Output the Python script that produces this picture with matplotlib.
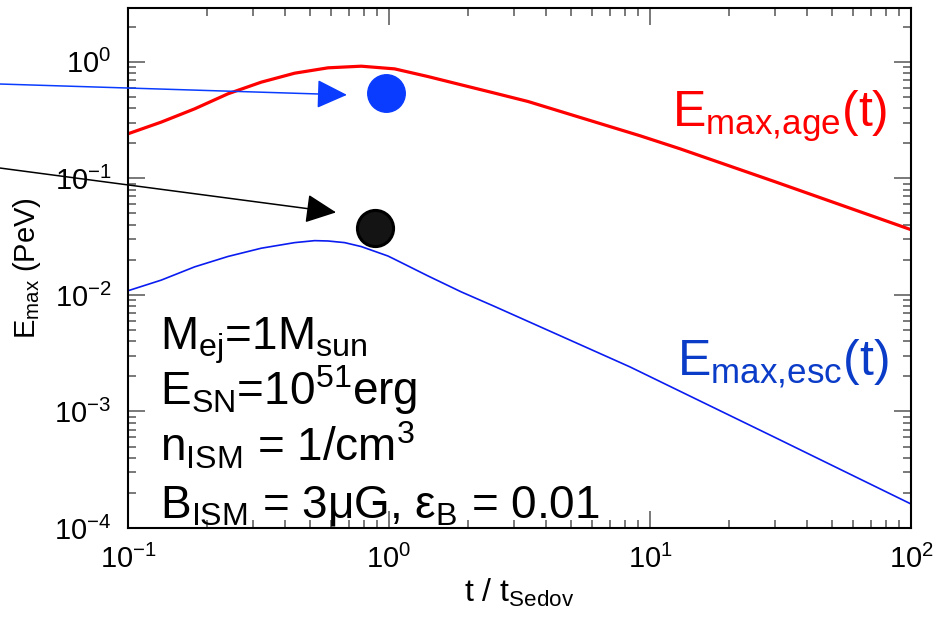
import numpy as np
import matplotlib
matplotlib.use("Agg")
import matplotlib.pyplot as plt
from matplotlib.ticker import LogLocator, NullFormatter

plt.rcParams["font.family"] = ["Liberation Sans", "DejaVu Sans"]
plt.rcParams["mathtext.fontset"] = "custom"
plt.rcParams["mathtext.rm"] = "Liberation Sans"
plt.rcParams["mathtext.it"] = "Liberation Sans"
plt.rcParams["mathtext.default"] = "regular"
plt.rcParams["axes.unicode_minus"] = False

# Emax limitado por la edad del remanente (log10 de PeV)
t_age = [0.1, 0.134, 0.18, 0.2415, 0.324, 0.435, 0.584, 0.783, 1.051, 1.411,
         1.892, 2.54, 3.41, 5.0, 9.16, 13.0, 30.0, 100.0]
logE_age = [-0.617, -0.517, -0.403, -0.274, -0.174, -0.097, -0.051, -0.037, -0.060,
            -0.126, -0.197, -0.268, -0.340, -0.454, -0.634, -0.745, -1.027, -1.44]

# Emax limitado por el escape (log10 de PeV)
t_esc = [0.1, 0.134, 0.18, 0.2415, 0.324, 0.435, 0.519, 0.584, 0.676, 0.783,
         0.991, 1.051, 1.411, 1.892, 2.54, 8.37, 30.0, 100.0]
logE_esc = [-1.964, -1.873, -1.759, -1.670, -1.599, -1.551, -1.534, -1.537, -1.551,
            -1.585, -1.666, -1.694, -1.837, -1.974, -2.099, -2.617, -3.221, -3.794]

# puntos marcados y la punta de cada flecha
punto_azul = (0.974, 0.54)
punto_negro = (0.884, 0.0373)
flecha_azul = (0.69, 0.521)
flecha_negra = (0.627, 0.0511)
cola_azul = (0.0, 0.866)
cola_negra = (0.0, 0.732)

parametros = [
    r"$M_{ej}$=1$M_{sun}$",
    r"$E_{SN}$=10$^{51}$erg",
    r"$n_{ISM}$ = 1/cm$^{3}$",
    r"$B_{ISM}$ = 3$\mu$G, $\varepsilon_{B}$ = 0.01",
]

fig = plt.figure(figsize=(9.42, 6.27), dpi=100)
ax = fig.add_axes([128 / 942, 99 / 627, 783 / 942, 520 / 627])

ax.plot(t_age, 10 ** np.array(logE_age), color="#ff0000", lw=2.3)
ax.plot(t_esc, 10 ** np.array(logE_esc), color="#0a1cf0", lw=1.2)

ax.plot(*punto_azul, "o", ms=27, color="#0a3cff", mec="#0a3cff")
ax.plot(*punto_negro, "o", ms=26, color="#141414", mec="#000000", mew=2.2)

ax.annotate("", xy=flecha_azul, xytext=cola_azul, textcoords="figure fraction",
            arrowprops=dict(arrowstyle="-|>,head_length=0.95,head_width=0.45",
                            mutation_scale=20, lw=1.1, color="#0a3cff",
                            shrinkA=0, shrinkB=0), annotation_clip=False)
ax.annotate("", xy=flecha_negra, xytext=cola_negra, textcoords="figure fraction",
            arrowprops=dict(arrowstyle="-|>,head_length=0.95,head_width=0.45",
                            mutation_scale=20, lw=1.1, color="black",
                            shrinkA=0, shrinkB=0), annotation_clip=False)

ax.text(0.695, 0.771, r"$E_{max{,}age}$(t)", transform=ax.transAxes,
        color="#ff0000", fontsize=36, va="baseline")
ax.text(0.701, 0.294, r"$E_{max{,}esc}$(t)", transform=ax.transAxes,
        color="#0a3cc8", fontsize=36, va="baseline")

for i, linea in enumerate(parametros):
    ax.text(0.041, 0.344 - i * 0.108, linea, transform=ax.transAxes,
            fontsize=33, va="baseline")

ax.set_xscale("log")
ax.set_yscale("log")
ax.set_xlim(0.1, 100)
ax.set_ylim(1e-4, 2.9)

ax.xaxis.set_minor_locator(LogLocator(base=10, subs=np.arange(2, 10)))
ax.yaxis.set_minor_locator(LogLocator(base=10, subs=np.arange(2, 10)))
ax.xaxis.set_minor_formatter(NullFormatter())
ax.yaxis.set_minor_formatter(NullFormatter())

ax.tick_params(which="both", direction="in", top=True, right=True,
               color="#555555", width=1.1)
ax.tick_params(which="major", length=12, labelsize=21)
ax.tick_params(which="minor", length=6)
ax.tick_params(axis="x", which="major", pad=12)
ax.tick_params(axis="y", which="major", pad=12)

for s in ax.spines.values():
    s.set_linewidth(1.5)

ax.set_xlabel(r"t / $t_{Sedov}$", fontsize=23, labelpad=2)
ax.set_ylabel(r"$E_{max}$ (PeV)", fontsize=21, labelpad=8)

fig.savefig("out.png", dpi=100)
